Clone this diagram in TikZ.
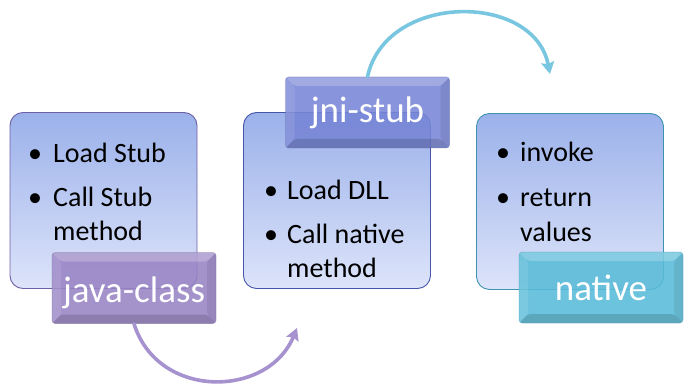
\documentclass[tikz,border=0pt]{standalone}
\usepackage{fontspec}
\setmainfont{Carlito}
\usetikzlibrary{arrows.meta,calc}
\definecolor{cardtop}{HTML}{9BB1EA}
\definecolor{cardbot}{HTML}{DDE4FA}
\definecolor{edgeA}{HTML}{6E5FA6}
\definecolor{edgeB}{HTML}{4656A8}
\definecolor{edgeC}{HTML}{3D93AE}
\definecolor{tagA}{HTML}{9783C4}
\definecolor{tagB}{HTML}{7785D6}
\definecolor{tagC}{HTML}{58BBD8}
\definecolor{arcA}{HTML}{A592CE}
\definecolor{arcB}{HTML}{78C6DF}
\begin{document}
\begin{tikzpicture}[x=1pt,y=-1pt,
  card/.style={draw=#1, line width=0.9pt, rounded corners=13pt,
    top color=cardtop, bottom color=cardbot,
    minimum width=187pt, minimum height=176pt, inner sep=0pt},
  tag/.style={fill=#1, fill opacity=0.88, draw=#1!80!black, draw opacity=0.35,
    line width=0.6pt, rounded corners=3pt,
    minimum width=164pt, minimum height=71pt, inner sep=0pt,
    text=white, text opacity=1, font=\fontsize{37}{44}\selectfont,
    text depth=0pt, bevel},
  bevel/.style={path picture={
    \fill[white,opacity=0.22]
      (path picture bounding box.north west) -- (path picture bounding box.north east)
      -- ([shift={(-9,9)}]path picture bounding box.north east)
      -- ([shift={(9,9)}]path picture bounding box.north west) -- cycle;
    \fill[white,opacity=0.10]
      (path picture bounding box.north west) -- ([shift={(9,9)}]path picture bounding box.north west)
      -- ([shift={(9,-9)}]path picture bounding box.south west)
      -- (path picture bounding box.south west) -- cycle;
    \fill[black,opacity=0.14]
      (path picture bounding box.south west) -- (path picture bounding box.south east)
      -- ([shift={(-9,-9)}]path picture bounding box.south east)
      -- ([shift={(9,-9)}]path picture bounding box.south west) -- cycle;
    \fill[black,opacity=0.08]
      (path picture bounding box.north east) -- ([shift={(-9,9)}]path picture bounding box.north east)
      -- ([shift={(-9,-9)}]path picture bounding box.south east)
      -- (path picture bounding box.south east) -- cycle;
  }},
  item/.style={anchor=base west, inner sep=0pt, font=\fontsize{28}{34}\selectfont},
  dot/.style={anchor=base, inner sep=0pt, font=\fontsize{28}{34}\selectfont},
  flow/.style={draw=#1, line width=3.6pt, line cap=round,
    -{Stealth[length=12pt,width=13pt,inset=2pt]}}
]
\useasboundingbox (0,0) rectangle (691,385);

% rounded cards
\node[card=edgeA] (c1) at (103.5,200.5) {};
\node[card=edgeB] (c2) at (337,200.5) {};
\node[card=edgeC] (c3) at (570,201.5) {};

% bullet lists
\node[dot]  (b1a) at (35,163) {•};
\node[item] (l1a) at (53,163) {Load Stub};
\node[dot]  (b1b) at (35,206) {•};
\node[item] (l1b) at (53,206) {Call Stub};
\node[item] (l1c) at (53,240) {method};

\node[dot]  (b2a) at (271,199) {•};
\node[item] (l2a) at (287,199) {Load DLL};
\node[dot]  (b2b) at (271,243) {•};
\node[item] (l2b) at (287,243) {Call native};
\node[item] (l2c) at (287,277) {method};

\node[dot]  (b3a) at (503,162) {•};
\node[item] (l3a) at (520,162) {invoke};
\node[dot]  (b3b) at (503,207) {•};
\node[item] (l3b) at (520,207) {return};
\node[item] (l3c) at (520,241) {values};

% bevelled tags
\node[tag=tagA, text height=28pt] (jc) at (134,288) {java-class};
\node[tag=tagB, text height=21pt] (js) at (367.5,112.5) {jni-stub};
\node[tag=tagC, text height=25pt] (nt) at (601,287.5) {native};

% curved arrows between the stages
\coordinate (e1) at (297,328);
\coordinate (e2) at (550,74);
\draw[flow=arcA] (jc.south) .. controls (158,400) and (268,398) .. (e1);
\draw[flow=arcB] (js.north) .. controls (386,-8) and (534,-8) .. (e2);
\end{tikzpicture}
\end{document}
